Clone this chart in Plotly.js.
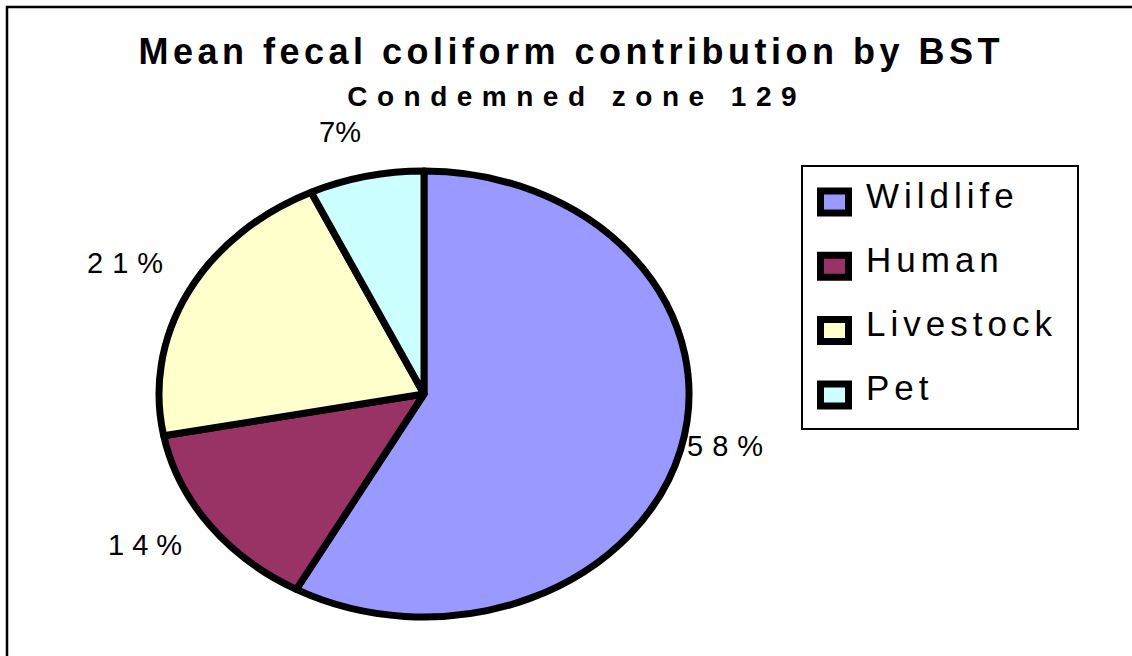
<!DOCTYPE html>
<html>
<head>
<meta charset="utf-8">
<script src="https://cdn.plot.ly/plotly-3.0.1.min.js"></script>
<style>
  body { margin: 0; background: #fff; }
  #chart { width: 1132px; height: 656px; }
</style>
</head>
<body>
<div id="chart"></div>
<script>
// data
const sources = ['Wildlife', 'Human', 'Livestock', 'Pet'];
const shares = [58, 14, 21, 7];
const sliceColors = ['#9999ff', '#993366', '#ffffcc', '#ccffff'];

const chartTitle = 'Mean fecal coliform contribution by BST';
const chartSubtitle = 'Condemned zone 129';

const W = 1132, H = 656;
const px = (x) => x / W;
const py = (y) => 1 - y / H;
const FONT = 'Liberation Sans, Arial, sans-serif';

// pie geometry (pixels): plotly draws a circle, we stretch it into the ellipse
const pie = {cx: 424, cy: 394, ry: 223, rx: 265};

// where the percent labels sit (visual centre), one per slice, and their tracking
const pctLabelPos = [[725, 446], [145, 545], [125, 263], [340, 132]];
const pctSpacing = [9, 8, 9, 0];

function buildLegend() {
    const shapes = [{
        type: 'rect', xref: 'paper', yref: 'paper',
        x0: px(802), x1: px(1078), y0: py(429), y1: py(166),
        line: {color: '#000', width: 2}, fillcolor: '#fff'
    }];
    const annotations = [];
    sources.forEach((name, i) => {
        const yc = 202 + i * 64.3;
        shapes.push({
            type: 'rect', xref: 'paper', yref: 'paper',
            x0: px(820.5), x1: px(848.5), y0: py(yc + 11), y1: py(yc - 11),
            line: {color: '#000', width: 7}, fillcolor: sliceColors[i]
        });
        annotations.push({
            xref: 'paper', yref: 'paper', x: px(864), y: py(yc - 7),
            xanchor: 'left', yanchor: 'middle', showarrow: false,
            text: name, font: {family: FONT, size: 35, color: '#000'},
            _spacing: 5
        });
    });
    return {shapes, annotations};
}

const legend = buildLegend();

const pctAnnotations = shares.map((v, i) => ({
    xref: 'paper', yref: 'paper',
    x: px(pctLabelPos[i][0]), y: py(pctLabelPos[i][1]),
    xanchor: 'center', yanchor: 'middle', showarrow: false,
    text: v + '%', font: {family: FONT, size: 29, color: '#000'},
    _spacing: pctSpacing[i]
}));

const subtitleAnnotation = {
    xref: 'paper', yref: 'paper', x: px(572), y: py(96),
    xanchor: 'center', yanchor: 'middle', showarrow: false,
    text: '<b>' + chartSubtitle + '</b>', font: {family: FONT, size: 28, color: '#000'},
    _spacing: 9.5
};

const annotations = [subtitleAnnotation, ...pctAnnotations, ...legend.annotations];

const trace = {
    type: 'pie',
    labels: sources,
    values: shares,
    sort: false,
    direction: 'clockwise',
    rotation: 0,
    marker: {colors: sliceColors, line: {color: '#000', width: 7}},
    textinfo: 'none',
    textposition: 'none',
    hoverinfo: 'skip',
    showlegend: false,
    domain: {
        x: [px(pie.cx - pie.ry), px(pie.cx + pie.ry)],
        y: [py(pie.cy + pie.ry), py(pie.cy - pie.ry)]
    }
};

const layout = {
    width: W,
    height: H,
    margin: {l: 0, r: 0, t: 0, b: 0},
    paper_bgcolor: '#fff',
    showlegend: false,
    title: {
        text: chartTitle,
        font: {family: FONT, size: 36, color: '#000', weight: 'bold'},
        x: px(569), xanchor: 'center',
        y: py(51), yanchor: 'middle', yref: 'container'
    },
    // outer frame, cut by the right and bottom edges like the original
    shapes: [{
        type: 'rect', xref: 'paper', yref: 'paper',
        x0: px(7), x1: 1.05, y0: -0.05, y1: py(7),
        line: {color: '#000', width: 2.5}
    }, ...legend.shapes],
    annotations: annotations.map(({_spacing, ...a}) => a)
};

// add tracking to a text element, keeping its left edge or its centre in place
function trackText(tx, spacing, keep) {
    const before = tx.getBBox();
    tx.style.letterSpacing = spacing + 'px';
    const after = tx.getBBox();
    let dx;
    if (keep === 'left') {
        dx = before.x - after.x;
    } else {
        // visual centre, ignoring the trailing space after the last glyph
        dx = (before.x + before.width / 2) - (after.x + (after.width - spacing) / 2);
    }
    const nodes = [tx, ...tx.querySelectorAll('tspan[x]')];
    nodes.forEach(n => {
        if (n.hasAttribute('x')) n.setAttribute('x', +n.getAttribute('x') + dx);
    });
}

const gd = document.getElementById('chart');
Plotly.newPlot(gd, [trace], layout, {displayModeBar: false, staticPlot: true}).then(() => {
    // stretch the round pie into the ellipse of the original
    const layer = gd.querySelector('.pielayer');
    const sx = pie.rx / pie.ry;
    layer.setAttribute('transform', `translate(${pie.cx},0) scale(${sx},1) translate(${-pie.cx},0)`);
    layer.querySelectorAll('path').forEach(p => { p.style.vectorEffect = 'non-scaling-stroke'; });

    // the original text is letter-spaced
    const t = gd.querySelector('.gtitle');
    if (t) trackText(t, 4.5, 'center');
    gd.querySelectorAll('.annotation').forEach(el => {
        const idx = +el.getAttribute('data-index');
        const a = annotations[idx];
        if (!a || !a._spacing) return;
        el.querySelectorAll('text').forEach(tx => trackText(tx, a._spacing, a.xanchor === 'left' ? 'left' : 'center'));
    });
});
</script>
</body>
</html>
